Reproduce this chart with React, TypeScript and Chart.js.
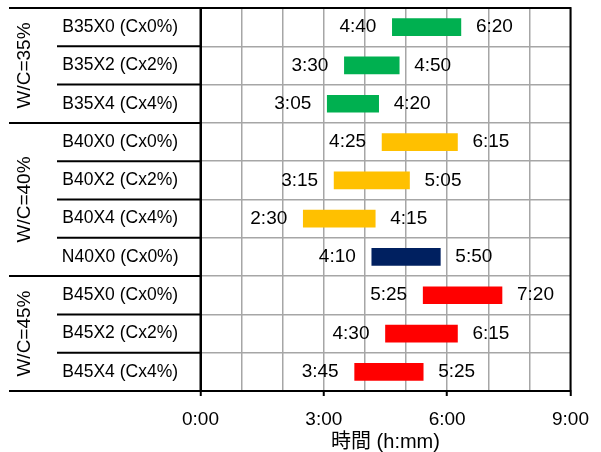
import { useEffect, useRef } from "react";
import { Chart, registerables } from "chart.js";

Chart.register(...registerables);

// Mix names, one per row (top to bottom)
const categories = [
  "B35X0 (Cx0%)",
  "B35X2 (Cx2%)",
  "B35X4 (Cx4%)",
  "B40X0 (Cx0%)",
  "B40X2 (Cx2%)",
  "B40X4 (Cx4%)",
  "N40X0 (Cx0%)",
  "B45X0 (Cx0%)",
  "B45X2 (Cx2%)",
  "B45X4 (Cx4%)",
];

// Water/cement ratio groups and how many rows each spans
const groupLabels = ["W/C=35%", "W/C=40%", "W/C=45%"];
const groupSizes = [3, 4, 3];

// Setting start / end times (h:mm)
const startTimes = ["4:40", "3:30", "3:05", "4:25", "3:15", "2:30", "4:10", "5:25", "4:30", "3:45"];
const endTimes = ["6:20", "4:50", "4:20", "6:15", "5:05", "4:15", "5:50", "7:20", "6:15", "5:25"];

const barColors = [
  "#00B050", "#00B050", "#00B050",
  "#FFC000", "#FFC000", "#FFC000",
  "#002060",
  "#FF0000", "#FF0000", "#FF0000",
];

// Time axis: 0:00 to 9:00, grid every hour, labels every 3 hours
const axisMaxMinutes = 540;
const gridStepMinutes = 60;
const labelStepMinutes = 180;
const axisTitle = "時間 (h:mm)";

const FONT = "'Liberation Sans', Arial, sans-serif";

const toMinutes = (s: string) => {
  const [h, m] = s.split(":").map(Number);
  return h * 60 + m;
};
const fmt = (v: number) => `${Math.floor(v / 60)}:${String(v % 60).padStart(2, "0")}`;

const sideAndLabelsPlugin = {
  id: "sideAndLabels",
  afterDraw(chart: any) {
    const { ctx, chartArea } = chart;
    const y = chart.scales.y;
    const x = chart.scales.x;
    const n = categories.length;
    const half = (y.getPixelForValue(1) - y.getPixelForValue(0)) / 2;
    const boundary = (i: number) =>
      i < n ? y.getPixelForValue(i) - half : y.getPixelForValue(n - 1) + half;

    // group boundary indexes
    const groupEdges = [0];
    groupSizes.forEach((s) => groupEdges.push(groupEdges[groupEdges.length - 1] + s));

    ctx.save();
    ctx.strokeStyle = "#000";
    ctx.lineWidth = 2;
    for (let i = 0; i <= n; i++) {
      const py = boundary(i);
      const x0 = groupEdges.includes(i) ? 9 : 57;
      ctx.beginPath();
      ctx.moveTo(x0, py);
      ctx.lineTo(chartArea.left, py);
      ctx.stroke();
    }

    // plot frame
    ctx.strokeRect(
      chartArea.left,
      chartArea.top,
      chartArea.right - chartArea.left,
      chartArea.bottom - chartArea.top
    );

    // rotated group labels
    ctx.fillStyle = "#000";
    ctx.font = `19px ${FONT}`;
    ctx.textAlign = "center";
    ctx.textBaseline = "middle";
    for (let g = 0; g < groupLabels.length; g++) {
      const cy = (boundary(groupEdges[g]) + boundary(groupEdges[g + 1])) / 2;
      ctx.save();
      ctx.translate(25, cy);
      ctx.rotate(-Math.PI / 2);
      ctx.fillText(groupLabels[g], 0, 0);
      ctx.restore();
    }

    // start / end time labels beside each bar
    ctx.font = `19px ${FONT}`;
    ctx.textBaseline = "middle";
    for (let i = 0; i < n; i++) {
      const s = toMinutes(startTimes[i]);
      const e = toMinutes(endTimes[i]);
      const py = y.getPixelForValue(i);
      ctx.textAlign = "right";
      ctx.fillText(fmt(s), x.getPixelForValue(s) - 16, py);
      ctx.textAlign = "left";
      ctx.fillText(fmt(e), x.getPixelForValue(e) + 15, py);
    }
    ctx.restore();
  },
};

export default function App() {
  const canvasRef = useRef<HTMLCanvasElement | null>(null);

  useEffect(() => {
    if (!canvasRef.current) return;
    const data = startTimes.map((s, i) => [toMinutes(s), toMinutes(endTimes[i])]);
    const chart = new Chart(canvasRef.current, {
      type: "bar",
      data: {
        labels: categories,
        datasets: [
          {
            data: data as any,
            backgroundColor: barColors,
            borderWidth: 0,
            borderSkipped: false,
            barThickness: 17,
          },
        ],
      },
      options: {
        indexAxis: "y",
        animation: false,
        responsive: true,
        maintainAspectRatio: false,
        layout: { padding: { top: 8, right: 28, left: 0, bottom: 0 } },
        plugins: {
          legend: { display: false },
          tooltip: { enabled: false },
        },
        scales: {
          x: {
            type: "linear",
            min: 0,
            max: axisMaxMinutes,
            afterFit: (scale: any) => {
              scale.height = 61;
            },
            ticks: {
              stepSize: gridStepMinutes,
              autoSkip: false,
              maxRotation: 0,
              padding: 12,
              color: "#000",
              font: { family: FONT, size: 19 },
              callback: (v: any) => (Number(v) % labelStepMinutes === 0 ? fmt(Number(v)) : ""),
            },
            grid: {
              color: "#A6A6A6",
              lineWidth: 1.5,
              tickLength: 5,
              tickWidth: 2,
              tickColor: (c: any) =>
                c.tick && c.tick.value % labelStepMinutes === 0 ? "#000" : "rgba(0,0,0,0)",
            },
            border: { display: true, color: "#000", width: 2 },
            title: {
              display: true,
              text: axisTitle,
              color: "#000",
              font: { family: "'Liberation Sans', 'Noto Sans CJK JP', sans-serif", size: 20 },
              padding: { top: 0, bottom: -2 },
            },
          },
          y: {
            type: "category",
            offset: true,
            afterFit: (scale: any) => {
              scale.width = 200.5;
              scale.paddingTop = 0;
              scale.paddingBottom = 0;
            },
            ticks: {
              crossAlign: "center",
              padding: 22,
              color: "#000",
              font: { family: FONT, size: 17.5 },
            },
            grid: {
              color: "#A6A6A6",
              lineWidth: 1.5,
              drawTicks: false,
            },
            border: { display: true, color: "#000", width: 2 },
          },
        },
      },
      plugins: [sideAndLabelsPlugin],
    });
    return () => chart.destroy();
  }, []);

  return (
    <div style={{ position: "fixed", left: 0, top: 0, width: 601, height: 452 }}>
      <canvas ref={canvasRef} />
    </div>
  );
}
